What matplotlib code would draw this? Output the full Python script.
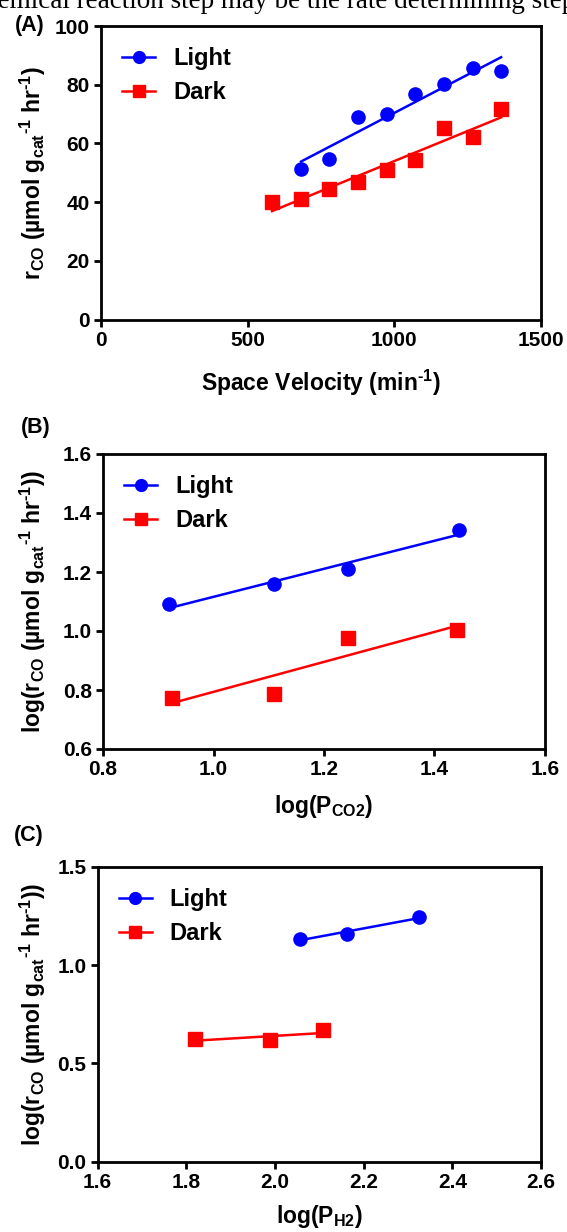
import numpy as np
import matplotlib
matplotlib.use('Agg')
import matplotlib.pyplot as plt

plt.rcParams['font.family'] = 'Liberation Sans'
plt.rcParams['font.weight'] = 'bold'
plt.rcParams['mathtext.default'] = 'regular'

# (A) rate vs space velocity
sv_light = [682, 778, 876, 975, 1072, 1169, 1268, 1364]
r_light = [51.4, 54.8, 69.0, 70.1, 77.0, 80.1, 85.6, 84.7]
sv_dark = [583, 682, 778, 876, 975, 1072, 1169, 1268, 1364]
r_dark = [40.0, 41.0, 44.3, 46.8, 50.8, 54.2, 65.3, 62.3, 71.6]

# (B) log rate vs log P_CO2
pco2_light = [0.919, 1.109, 1.243, 1.444]
logr_co2_light = [1.091, 1.159, 1.210, 1.343]
pco2_dark = [0.924, 1.110, 1.243, 1.440]
logr_co2_dark = [0.772, 0.788, 0.976, 1.003]

# (C) log rate vs log P_H2
ph2_light = [2.056, 2.162, 2.324]
logr_h2_light = [1.135, 1.158, 1.245]
ph2_dark = [1.819, 1.988, 2.109]
logr_h2_dark = [0.625, 0.617, 0.668]

BLUE = '#0000ff'
RED = '#ff0000'
TICK_FS = 15
LAB_FS = 16.5
LEG_FS = 17

HY = '\u2010'  # short hyphen for the "-1" exponents
RATE = 'r$_{CO}$ (µmol g$_{cat}$$^{' + HY + '1}$ hr$^{' + HY + '1}$)'

fig = plt.figure(figsize=(5.67, 12.32), dpi=100)

# clipped text line from the page above the figure
fig.text(575 / 567, 1 - 8 / 1232, 'chemical reaction step may be the rate determining step',
         family='Liberation Serif', weight='normal', fontsize=19.5, va='baseline', ha='right')


def panel(rect, yl, series, xlim, ylim, xticks, yticks, fmt, xlabel, xlabpad, tag, tagxy, ylab_x):
    ax = fig.add_axes(rect)
    for x, y, c, m, lab in series:
        ax.plot(x, y, m, color=c, ms=9.5, ls='none')
        k, b = np.polyfit(x, y, 1)
        xx = np.array([min(x), max(x)])
        ax.plot(xx, k * xx + b, '-', color=c, lw=1.8)
        ax.plot([], [], '-' + m, color=c, ms=8.5, lw=1.8, label=lab)
    ax.set_xlim(*xlim)
    ax.set_ylim(*ylim)
    ax.set_xticks(xticks)
    ax.set_yticks(yticks)
    ax.set_xticklabels([fmt.format(v) for v in xticks], fontsize=TICK_FS, weight='bold')
    ax.set_yticklabels([fmt.format(v) for v in yticks], fontsize=TICK_FS, weight='bold')
    for s in ax.spines.values():
        s.set_linewidth(2)
    ax.tick_params(direction='out', length=5, width=2, pad=3)
    ax.set_xlabel(xlabel, fontsize=LAB_FS, weight='bold', labelpad=xlabpad)
    ax.set_ylabel(yl, fontsize=LAB_FS, weight='bold')
    ax.yaxis.set_label_coords(ylab_x, 0.5)
    leg = ax.legend(loc='upper left', frameon=False, fontsize=LEG_FS, handlelength=1.4,
                    bbox_to_anchor=(0.0, 1.0), labelspacing=0.45, handletextpad=0.75)
    for t in leg.get_texts():
        t.set_weight('bold')
    fig.text(tagxy[0], tagxy[1], tag, fontsize=15.5, weight='bold', va='center', ha='left')
    return ax


W, H = 567, 1232


def rect(l, r, t, b):
    return [l / W, 1 - b / H, (r - l) / W, (b - t) / H]


panel(rect(101, 541, 26, 319.5), RATE,
      [(sv_light, r_light, BLUE, 'o', 'Light'), (sv_dark, r_dark, RED, 's', 'Dark')],
      (0, 1500), (0, 100), [0, 500, 1000, 1500], [0, 20, 40, 60, 80, 100],
      '{:.0f}', 'Space Velocity (min$^{' + HY + '1}$)', 13, '(A)', (15 / W, 1 - 25 / H), -0.12)

panel(rect(103, 545, 454, 749), 'log(' + RATE + ')',
      [(pco2_light, logr_co2_light, BLUE, 'o', 'Light'), (pco2_dark, logr_co2_dark, RED, 's', 'Dark')],
      (0.8, 1.6), (0.6, 1.6), [0.8, 1.0, 1.2, 1.4, 1.6], [0.6, 0.8, 1.0, 1.2, 1.4, 1.6],
      '{:.1f}', 'log(P$_{CO2}$)', 10, '(B)', (21 / W, 1 - 427 / H), -0.125)

panel(rect(97.6, 541, 867, 1161.7), 'log(' + RATE + ')',
      [(ph2_light, logr_h2_light, BLUE, 'o', 'Light'), (ph2_dark, logr_h2_dark, RED, 's', 'Dark')],
      (1.6, 2.6), (0.0, 1.5), [1.6, 1.8, 2.0, 2.2, 2.4, 2.6], [0.0, 0.5, 1.0, 1.5],
      '{:.1f}', 'log(P$_{H2}$)', 8, '(C)', (14 / W, 1 - 835 / H), -0.112)

fig.savefig('out.png', dpi=100)
